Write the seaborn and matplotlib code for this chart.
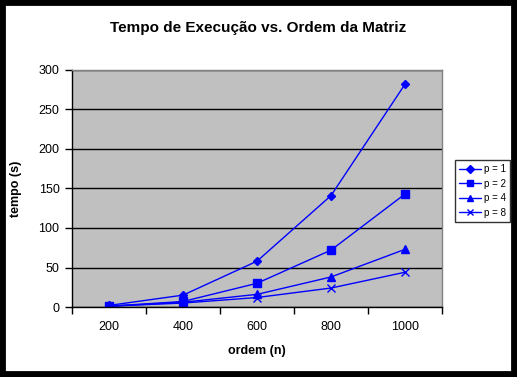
import numpy as np
import pandas as pd
import matplotlib
matplotlib.use("Agg")
import matplotlib.pyplot as plt
import seaborn as sns

# dados
ordem = ["200", "400", "600", "800", "1000"]
p1 = [2, 15, 58, 141, 282]
p2 = [1, 7, 30, 72, 143]
p4 = [1, 6, 16, 38, 73]
p8 = [1, 5, 12, 24, 44]
series = ["p = 1", "p = 2", "p = 4", "p = 8"]
marcadores = ["D", "s", "^", "x"]

sns.set_style("white")
plt.rcParams["font.family"] = ["Liberation Sans", "DejaVu Sans"]
plt.rcParams["text.color"] = "black"
plt.rcParams["axes.labelcolor"] = "black"
plt.rcParams["xtick.color"] = "black"
plt.rcParams["ytick.color"] = "black"

fig = plt.figure(figsize=(5.17, 3.77), dpi=100)
fig.patch.set_facecolor("white")
ax = fig.add_axes([72 / 517, 70 / 377, 370 / 517, 237 / 377])
ax.set_facecolor("#C0C0C0")

blue = "#0000FF"
for nome, vals, m in zip(series, [p1, p2, p4, p8], marcadores):
    d = pd.DataFrame({"ordem": ordem, "tempo": vals})
    sns.lineplot(data=d, x="ordem", y="tempo", color=blue, marker=m,
                 linewidth=1, markersize=4.5 if m == "D" else 5.5,
                 markeredgecolor=blue, markeredgewidth=1, ax=ax,
                 sort=False, label=nome)

ax.set_xlim(-0.5, 4.5)
ax.set_ylim(0, 300)
ax.set_yticks(range(0, 301, 50))
ax.yaxis.grid(True, color="black", linewidth=1)
ax.set_axisbelow(True)

# ticks entre categorias como no Excel
ax.set_xticks(np.arange(5))
ax.set_xticklabels(ordem)
ax.set_xticks(np.arange(-0.5, 5, 1), minor=True)
ax.tick_params(axis="x", which="major", length=0, pad=10, labelsize=9)
ax.tick_params(axis="x", which="minor", length=5, width=1, color="black",
               direction="out", bottom=True)
ax.tick_params(axis="y", length=5, width=1, color="black", direction="out",
               left=True, labelsize=9, pad=4)

for s in ["left", "bottom"]:
    ax.spines[s].set_color("black")
    ax.spines[s].set_linewidth(1)
for s in ["top", "right"]:
    ax.spines[s].set_color("#808080")
    ax.spines[s].set_linewidth(1)

ax.set_xlabel("ordem (n)", fontsize=9, fontweight="bold", labelpad=9)
ax.set_ylabel("tempo (s)", fontsize=9, fontweight="bold", labelpad=12)
fig.text(0.5, 1 - 28 / 377, "Tempo de Execução vs. Ordem da Matriz",
         ha="center", va="center", fontsize=11, fontweight="bold",
         color="black")

leg = ax.legend(loc="center left", bbox_to_anchor=(450 / 517, 1 - 191 / 377),
                bbox_transform=fig.transFigure, frameon=True, fancybox=False,
                fontsize=7, edgecolor="black", handlelength=2.2,
                labelspacing=0.45, borderpad=0.45, handletextpad=0.3,
                markerscale=0.85)
leg.get_frame().set_linewidth(1)
leg.get_frame().set_facecolor("white")

# moldura preta da figura
fig.add_artist(plt.Rectangle((0, 0), 1, 1, transform=fig.transFigure,
                             fill=False, edgecolor="black", linewidth=8.5))

fig.savefig("out.png", dpi=100)
